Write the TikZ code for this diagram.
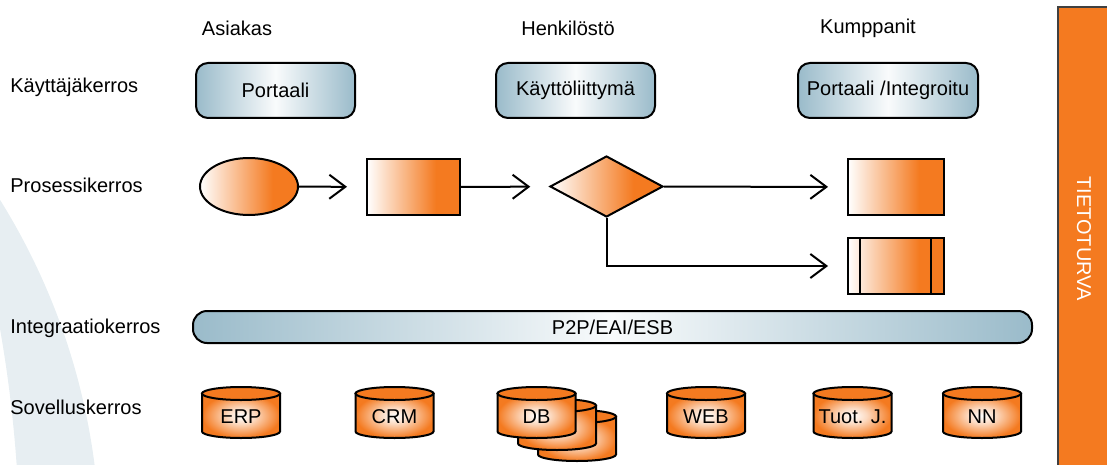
\documentclass[tikz,border=0pt]{standalone}
\usepackage{fontspec}
\setmainfont{Liberation Sans}
\usetikzlibrary{arrows.meta,shapes.geometric,positioning,calc}
\definecolor{Tieto}{HTML}{F47A20}
\definecolor{Kerros}{HTML}{9ABBCA}
\definecolor{Kaari}{HTML}{E7EEF2}
% white on the left, full orange from about two thirds on
\pgfdeclarehorizontalshading{oranssi}{100bp}{color(0bp)=(white); color(25bp)=(white); color(62bp)=(Tieto); color(100bp)=(Tieto)}
\pgfdeclareradialshading{tynnyri}{\pgfpoint{0bp}{0bp}}{color(0bp)=(white); color(9bp)=(Tieto!28); color(25bp)=(Tieto); color(50bp)=(Tieto)}
\tikzset{
layer/.style= {rectangle, rounded corners=6pt, draw, line width=1pt, left color=Kerros, right color=Kerros, middle color=Kerros!6, inner sep=0pt, minimum height=27.5pt},
proc/.style= {draw, line width=1pt, shade, shading=oranssi, inner sep=0pt},
dbbody/.style= {draw, line width=1pt, shade, shading=tynnyri},
dbtop/.style= {draw, line width=1pt, fill=Tieto},
rowlabel/.style= {anchor=west, inner sep=0pt},
flow/.style= {->, line width=1pt, shorten >=9.5pt}
}

\begin{document}
\begin{tikzpicture}[x=0.5pt, y=-0.5pt, >={Straight Barb[length=8pt,width=12pt]}]
\useasboundingbox (0,0) rectangle (1107,465);

% background band
\begin{scope}
\clip (0,0) rectangle (1107,465);
\fill[Kaari, even odd rule] (-562.5,550) circle [radius=331.25pt] (-1312,560) circle [radius=666pt];
\end{scope}

% column and row titles
\node (asiakas) at (237,28) {Asiakas};
\node (henkilosto) at (568,28) {Henkilöstö};
\node (kumppanit) at (868,28) {Kumppanit};

\node [rowlabel] (r1) at (10,87) {Käyttäjäkerros};
\node [rowlabel] (r2) at (10,185) {Prosessikerros};
\node [rowlabel] (r3) at (10,328) {Integraatiokerros};
\node [rowlabel] (r4) at (10,407) {Sovelluskerros};

% user layer
\node [layer, minimum width=79.5pt] (portaali) at (275.5,90.5) {Portaali};
\node [layer, minimum width=79.5pt] (kl) at (575.5,90.5) {Käyttöliittymä};
\node [layer, minimum width=90pt] (integroitu) at (888,90.5) {Portaali /Integroitu};

% process layer
\node [proc, ellipse, minimum width=49pt, minimum height=28.5pt] (alku) at (249,186.5) {};
\node [proc, rectangle, minimum width=46.5pt, minimum height=28pt] (vaihe) at (413.5,187) {};
\node [proc, diamond, minimum width=56.5pt, minimum height=30.5pt] (valinta) at (606.5,186.5) {};
\node [proc, rectangle, minimum width=48pt, minimum height=28pt] (tulos) at (896,187) {};
\node [proc, rectangle, minimum width=48pt, minimum height=28pt] (ali) at (896,266) {};
\draw[line width=1pt] ($(ali.north west)+(13,0)$) -- ($(ali.south west)+(13,0)$);
\draw[line width=1pt] ($(ali.north east)+(-14,0)$) -- ($(ali.south east)+(-14,0)$);

\draw[flow] (alku) -- (vaihe);
\draw[flow] (vaihe) -- (valinta);
\draw[flow] (valinta) -- (tulos);
\draw[flow] (valinta.south) |- (ali.west);

% integration layer
\node [layer, rounded corners=7pt, minimum width=419.5pt, minimum height=16pt] (esb) at (612.5,327) {P2P/EAI/ESB};

% application layer, the DB stack from back to front
\foreach \nm/\xx/\yt/\txt in {erp/241/387/ERP, crm/394.5/387/CRM, db3/577/410/, db2/557/399/, db/536.5/387/DB, web/706/387/WEB, tuot/852.5/387/Tuot. J., nn/982/387/NN}
{
  \draw[dbbody] (\xx-39,\yt+6.5) -- ++(0,38) arc[start angle=180, end angle=0, x radius=39, y radius=6.5] -- ++(0,-38) -- cycle;
  \draw[dbtop] (\xx,\yt+6.5) ellipse [x radius=39, y radius=6.5];
  \node (\nm) at (\xx,\yt+30) {\txt};
}

% security column
\node [draw=black!75, line width=0.8pt, fill=Tieto, text=white, rotate=-90, minimum width=231.5pt, minimum height=26pt, inner sep=0pt] (turva) at (1084,238.5) {TIETOTURVA};
\end{tikzpicture}
\end{document}
